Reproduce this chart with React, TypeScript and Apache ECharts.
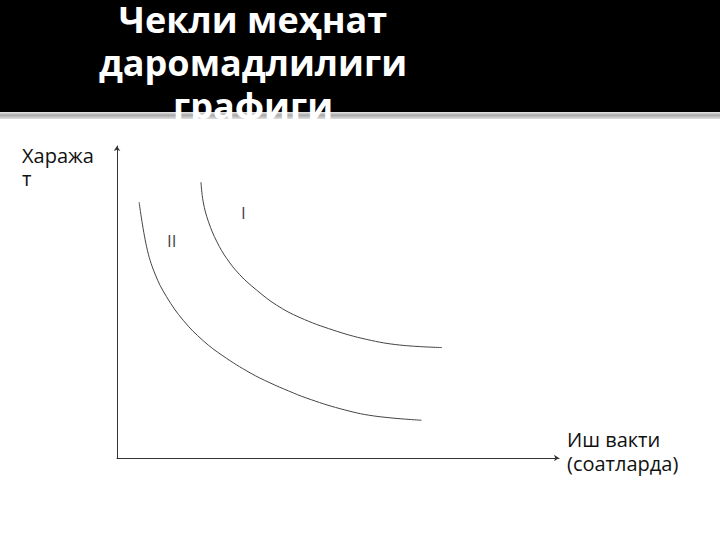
import { useEffect, useRef } from 'react'
import * as echarts from 'echarts'

// title and axis captions, one entry per printed line
const titleLines = ['Чекли меҳнат', 'даромадлилиги', 'графиги']
const yAxisTitleLines = ['Хаража', 'т']
const xAxisTitleLines = ['Иш вакти', '(соатларда)']

// curve I (upper) and curve II (lower), [time, cost]
const curveI: [number, number][] = [
  [19.0, 88.4],
  [19.5, 82.1],
  [20.7, 75.7],
  [22.6, 69.3],
  [24.8, 64.0],
  [27.8, 58.7],
  [31.6, 53.8],
  [36.1, 49.0],
  [41.4, 45.0],
  [48.9, 41.0],
  [56.5, 38.0],
  [64.0, 36.2],
  [73.5, 35.4],
]

const curveII: [number, number][] = [
  [5.0, 82.0],
  [6.7, 67.7],
  [8.6, 59.0],
  [11.2, 51.7],
  [15.0, 44.1],
  [19.5, 37.6],
  [24.0, 32.7],
  [30.1, 27.3],
  [34.6, 24.1],
  [38.8, 21.5],
  [42.9, 19.2],
  [50.5, 15.8],
  [58.0, 13.5],
  [68.9, 12.1],
]

// curve names placed next to the curves
const curveLabels: { name: string; value: [number, number] }[] = [
  { name: 'I', value: [28.6, 78.8] },
  { name: 'II', value: [12.4, 69.6] },
]

const FONT = '"Open Sans", "DejaVu Sans", sans-serif'

export default function App() {
  const chartRef = useRef<HTMLDivElement>(null)

  useEffect(() => {
    if (!chartRef.current) return
    const chart = echarts.init(chartRef.current, null, { renderer: 'svg' })

    const axisCommon = {
      type: 'value' as const,
      min: 0,
      max: 100,
      axisTick: { show: false },
      axisLabel: { show: false },
      splitLine: { show: false },
      axisLine: {
        show: true,
        symbol: ['none', 'arrow'],
        symbolSize: [5, 5],
        lineStyle: { color: '#333', width: 1 },
      },
    }

    const titleTexts = titleLines.map((t, i) => ({
      type: 'text',
      x: 253,
      y: 19 + i * 43,
      z: 2,
      style: {
        text: t,
        fill: '#fff',
        font: `bold 36px ${FONT}`,
        lineHeight: 36,
        align: 'center',
        verticalAlign: 'middle',
      },
    }))

    const yTitleTexts = yAxisTitleLines.map((t, i) => ({
      type: 'text',
      x: 22,
      y: 155 + i * 23,
      style: { text: t, fill: '#111', font: `20px ${FONT}`, lineHeight: 22, align: 'left', verticalAlign: 'middle' },
    }))

    const xTitleTexts = xAxisTitleLines.map((t, i) => ({
      type: 'text',
      x: 567,
      y: 439 + i * 24,
      style: { text: t, fill: '#111', font: `20px ${FONT}`, lineHeight: 22, align: 'left', verticalAlign: 'middle' },
    }))

    chart.setOption({
      animation: false,
      backgroundColor: '#fff',
      textStyle: { fontFamily: FONT },
      grid: { left: 117, right: 161, top: 146, bottom: 82 },
      xAxis: axisCommon,
      yAxis: axisCommon,
      graphic: [
        { type: 'rect', shape: { x: 0, y: 0, width: 720, height: 112 }, style: { fill: '#000' }, z: 0 },
        {
          type: 'rect',
          shape: { x: 0, y: 112, width: 720, height: 7 },
          style: {
            fill: new echarts.graphic.LinearGradient(0, 0, 0, 1, [
              { offset: 0, color: '#e8e8e8' },
              { offset: 0.45, color: '#a8a8a8' },
              { offset: 1, color: '#e0e0e0' },
            ]),
          },
          z: 1,
        },
        ...titleTexts,
        ...yTitleTexts,
        ...xTitleTexts,
      ],
      series: [
        {
          name: 'I',
          type: 'line',
          data: curveI,
          smooth: 0.4,
          symbol: 'none',
          lineStyle: { color: '#444', width: 1 },
        },
        {
          name: 'II',
          type: 'line',
          data: curveII,
          smooth: 0.4,
          symbol: 'none',
          lineStyle: { color: '#444', width: 1 },
        },
        {
          type: 'scatter',
          symbolSize: 0,
          data: curveLabels,
          label: {
            show: true,
            position: 'inside',
            formatter: '{b}',
            fontSize: 17,
            fontFamily: FONT,
            color: '#111',
          },
        },
      ],
    })

    return () => {
      chart.dispose()
    }
  }, [])

  return (
    <div
      ref={chartRef}
      style={{ position: 'fixed', left: 0, top: 0, width: 720, height: 540 }}
    ></div>
  )
}
